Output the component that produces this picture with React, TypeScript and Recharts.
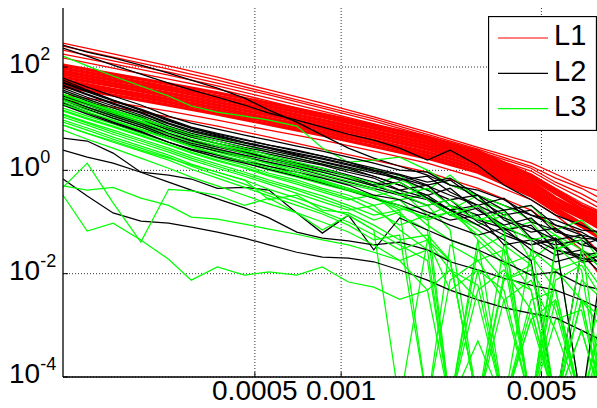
import { LineChart, Line, XAxis, YAxis, CartesianGrid, Legend } from "recharts";

// sample positions along the x axis (log spaced)
const xFine = [0.000107, 0.00013, 0.00016, 0.0002, 0.00025, 0.0003, 0.00037, 0.00046, 0.00056, 0.0007, 0.00086, 0.00106, 0.0013, 0.0016, 0.002, 0.0024, 0.003, 0.0037, 0.0046, 0.0056, 0.0069, 0.0082];
const xCoarse = [0.000107, 0.00016, 0.00025, 0.00037, 0.00056, 0.00086, 0.0013, 0.002, 0.003, 0.0046, 0.0056, 0.0069, 0.0082];

const xTicks = [0.0005, 0.001, 0.005];
const xTickLabels = ["0.0005", "0.001", "0.005"];
const yTicks = [0.0001, 0.01, 1, 100];

const seriesNames = ["L1", "L2", "L3"];
const seriesColors = ["#ff0000", "#000000", "#00ff00"];

// L1 (red) - smooth curves, upper group
const red01 = [291, 179, 105, 64, 36, 20, 10.8, 5.5, 2.8, 1.4, 0.85, 0.5, 0.38];
const red02 = [255, 156, 91, 56, 31.5, 17.6, 9.9, 5.0, 2.57, 1.2, 0.71, 0.45, 0.27];
const red03 = [213, 131, 79.5, 49, 29, 16, 9.0, 4.6, 2.36, 1.1, 0.59, 0.35, 0.21];
const red04 = [178, 115, 70, 43, 25, 14, 7.9, 4.0, 2.16, 0.97, 0.52, 0.29, 0.17];
const red05 = [150, 95, 58.5, 37.6, 22, 12.3, 6.9, 3.7, 1.88, 0.84, 0.45, 0.236, 0.15];
// L1 dense core band
const red06 = [109, 73, 47, 31.5, 20, 12.3, 7.5, 4.4, 2.36, 0.81, 0.415, 0.21, 0.136];
const red07 = [95, 64, 41, 27.5, 17.5, 10.8, 6.6, 3.85, 2.06, 0.71, 0.36, 0.18, 0.119];
const red08 = [83, 56, 36, 24, 15.3, 9.4, 5.7, 3.36, 1.8, 0.62, 0.29, 0.16, 0.104];
const red09 = [73, 49, 31.4, 21, 13.4, 8.2, 5.0, 2.94, 1.58, 0.54, 0.28, 0.14, 0.091];
const red10 = [64, 43, 27.4, 18.4, 11.7, 7.2, 4.4, 2.57, 1.38, 0.47, 0.24, 0.123, 0.079];
const red11 = [56, 37, 24, 16, 10.2, 6.3, 3.8, 2.24, 1.2, 0.41, 0.21, 0.12, 0.069];
const red12 = [49, 33, 21, 14, 8.9, 5.5, 3.35, 1.96, 1.05, 0.36, 0.185, 0.094, 0.05];
const red13 = [42.5, 28.5, 18.3, 12.3, 7.8, 4.8, 2.9, 1.72, 0.92, 0.32, 0.16, 0.082, 0.045];
// L1 lower strays
const red14 = [29, 21, 14, 9.4, 6.0, 3.85, 2.36, 1.38, 0.71, 0.27, 0.136, 0.056, 0.023];
const red15 = [23, 16.8, 10.8, 7.2, 4.4, 2.57, 1.58, 0.92, 0.45, 0.17, 0.076, 0.029, 0.0075];

const redUpper = [red01, red02, red03, red04, red05, red14, red15];
const redCore = [red06, red07, red08, red09, red10, red11, red12, red13];

// L2 (black)
const black01 = [267, 195, 150, 109, 76, 56, 39, 25, 14.7, 8.6, 4.8, 2.7, 1.72, 1.2, 0.81, 0.52, 0.33, 0.21, 0.136, 0.087, 0.056, 0.045];
const black02 = [233, 163, 109, 73, 49, 36, 26, 18.4, 12.8, 9.4, 6.9, 5.0, 3.85, 2.7, 1.58, 2.47, 1.26, 0.52, 0.27, 0.136, 0.087, 0.056];
const black03 = [61, 41, 27.5, 18.4, 11.2, 8.2, 6.3, 4.8, 3.85, 2.95, 2.36, 1.8, 1.38, 1.01, 0.92, 0.52, 0.415, 0.27, 0.136, 0.109, 0.07, 0.064];
const black04 = [49, 33, 22, 14.7, 9.0, 6.6, 5.0, 3.85, 3.08, 2.36, 1.88, 1.44, 1.01, 0.81, 0.52, 0.65, 0.27, 0.136, 0.17, 0.064, 0.049, 0.045];
const black05 = [39, 26, 17.6, 11.8, 7.2, 5.2, 4.0, 3.08, 2.47, 1.88, 1.5, 1.15, 0.88, 0.71, 0.415, 0.27, 0.33, 0.109, 0.064, 0.076, 0.036, 0.029];
const black06 = [33, 22, 14.7, 9.8, 6.0, 4.4, 3.35, 2.58, 2.06, 1.58, 1.26, 0.92, 0.71, 0.415, 0.52, 0.21, 0.136, 0.17, 0.049, 0.036, 0.045, 0.023];
const black07 = [27.5, 18.4, 12.3, 8.2, 5.0, 3.7, 2.8, 2.16, 1.72, 1.32, 1.01, 0.77, 0.52, 0.59, 0.29, 0.17, 0.21, 0.07, 0.087, 0.029, 0.023, 0.026];
const black08 = [23, 15.4, 10.3, 6.9, 4.2, 3.08, 2.36, 1.8, 1.44, 1.1, 0.81, 0.59, 0.45, 0.33, 0.21, 0.27, 0.1, 0.056, 0.036, 0.045, 0.017, 0.018];
const black09 = [20, 13.4, 8.6, 5.7, 3.5, 2.58, 1.97, 1.5, 1.2, 0.92, 0.71, 0.52, 0.33, 0.27, 0.157, 0.109, 0.136, 0.036, 0.045, 0.023, 0.029, 0.0147];
const black10 = [56, 36, 23, 14.7, 9.4, 6.6, 4.8, 3.5, 2.7, 1.97, 1.44, 1.1, 0.77, 0.52, 0.33, 0.17, 0.109, 0.076, 0.049, 0.029, 0.02, 0.017];
const black11 = [4.2, 3.7, 2.16, 0.92, 0.81, 0.68, 0.45, 0.47, 0.415, 0.15, 0.061, 0.136, 0.029, 0.12, 0.07, 0.045, 0.029, 0.017, 0.0094, 0.0108, 0.006, 0.0048];
const black12 = [2.47, 1.8, 1.38, 0.92, 0.59, 0.415, 0.28, 0.188, 0.12, 0.064, 0.049, 0.043, 0.036, 0.041, 0.029, 0.017, 0.0118, 0.0082, 0.006, 0.0048, 0.0031, 0.002];
const black13 = [0.68, 0.32, 0.15, 0.104, 0.095, 0.08, 0.064, 0.049, 0.036, 0.026, 0.021, 0.02, 0.017, 0.0118, 0.0075, 0.0048, 0.0031, 0.0022, 0.0017, 0.0014, 0.0008, 0.0005];
const black14 = [29, 19.2, 12.8, 8.6, 5.2, 3.85, 2.95, 2.25, 1.8, 1.38, 1.1, 0.81, 0.59, 0.415, 0.29, 0.17, 0.087, 0.045, 0.018, 0.00003, 0.029, 0.0118];
const black15 = [45, 30, 20, 13.4, 8.2, 6.0, 4.6, 3.5, 2.8, 2.16, 1.72, 1.32, 1.01, 0.71, 0.5, 0.33, 0.21, 0.12, 0.076, 0.045, 0.00003, 0.023];
const black16 = [43, 29, 19.2, 12.8, 7.9, 5.7, 4.4, 3.35, 2.7, 2.06, 1.65, 1.26, 0.96, 0.65, 0.77, 0.38, 0.21, 0.29, 0.1, 0.07, 0.036, 0.049];
const black17 = [36, 24, 16.1, 10.8, 6.6, 4.8, 3.7, 2.8, 2.25, 1.72, 1.32, 1.01, 0.77, 0.52, 0.33, 0.45, 0.17, 0.087, 0.12, 0.045, 0.056, 0.02];
const black18 = [25, 16.8, 11.2, 7.5, 4.6, 3.35, 2.58, 1.97, 1.58, 1.2, 0.92, 0.68, 0.5, 0.36, 0.27, 0.136, 0.188, 0.064, 0.036, 0.049, 0.018, 0.023];
const black19 = [18.4, 12.3, 8.2, 5.5, 3.5, 2.47, 1.8, 1.38, 1.05, 0.77, 0.57, 0.415, 0.29, 0.21, 0.136, 0.087, 0.056, 0.076, 0.029, 0.017, 0.023, 0.0094];
const black20 = [51, 34.5, 23, 15.4, 9.8, 6.9, 5.2, 4.0, 3.08, 2.47, 1.88, 1.44, 1.1, 0.84, 0.59, 0.71, 0.33, 0.17, 0.21, 0.087, 0.064, 0.036];

const blackLines = [black01, black02, black03, black04, black05, black06, black07, black08, black09, black10, black11, black12, black13, black14, black15, black16, black17, black18, black19, black20];

// L3 (green); 0.00003 = dropped below the axis
const green00 = [163, 105, 67, 43, 27.5, 17.6, 13.4, 11.2, 9.4, 7.2, 2.7, 1.44, 1.58, 1.8, 1.01, 0.52, 0.33, 0.21, 0.109, 0.056, 0.029, 0.018];
const green01 = [33, 23, 16.1, 11.2, 7.9, 5.7, 4.2, 3.08, 2.25, 1.72, 1.32, 1.01, 1.1, 0.65, 0.415, 0.81, 0.27, 0.17, 0.21, 0.07, 0.109, 0.045];
const green02 = [27.5, 19.2, 13.4, 9.0, 6.3, 4.4, 3.2, 2.36, 1.72, 1.26, 0.92, 0.71, 0.52, 0.81, 0.27, 0.17, 0.33, 0.07, 0.1, 0.029, 0.056, 0.0147];
const green03 = [24, 16.8, 11.8, 7.9, 5.2, 3.7, 2.58, 1.88, 1.38, 1.01, 0.74, 0.54, 0.415, 0.27, 0.33, 0.136, 0.087, 0.136, 0.018, 0.045, 0.00003, 0.0118];
const green04 = [21, 14.7, 10.3, 6.9, 4.6, 3.2, 2.25, 1.65, 1.2, 0.84, 0.62, 0.45, 0.32, 0.415, 0.136, 0.21, 0.045, 0.00003, 0.029, 0.0118, 0.018, 0.0048];
const green05 = [18.4, 12.8, 9.0, 6.0, 4.0, 2.8, 1.97, 1.44, 1.01, 0.74, 0.54, 0.4, 0.29, 0.17, 0.21, 0.07, 0.00003, 0.036, 0.0147, 0.00003, 0.0075, 0.0031];
const green06 = [16.1, 11.2, 7.9, 5.2, 3.5, 2.47, 1.72, 1.26, 0.88, 0.65, 0.45, 0.33, 0.21, 0.27, 0.087, 0.045, 0.029, 0.056, 0.00003, 0.0118, 0.0031, 0.00003];
const green07 = [14, 9.8, 6.9, 4.6, 3.08, 2.16, 1.5, 1.1, 0.77, 0.54, 0.38, 0.27, 0.33, 0.136, 0.07, 0.00003, 0.045, 0.0147, 0.023, 0.0048, 0.00003, 0.002];
const green08 = [12.3, 8.6, 6.0, 4.0, 2.7, 1.88, 1.32, 0.92, 0.65, 0.45, 0.32, 0.21, 0.136, 0.17, 0.00003, 0.036, 0.018, 0.029, 0.0048, 0.00003, 0.0031, 0.0008];
const green09 = [10.8, 7.5, 5.0, 3.35, 2.25, 1.58, 1.1, 0.77, 0.54, 0.36, 0.245, 0.17, 0.21, 0.07, 0.029, 0.018, 0.00003, 0.0075, 0.0118, 0.002, 0.00003, 0.00033];
const green10 = [9.4, 6.6, 4.4, 2.95, 1.97, 1.32, 0.92, 0.65, 0.43, 0.29, 0.196, 0.136, 0.07, 0.00003, 0.045, 0.0118, 0.006, 0.00003, 0.0031, 0.0048, 0.00003, 0.00003];
const green11 = [7.5, 5.2, 3.5, 2.36, 1.58, 1.05, 0.71, 0.47, 0.32, 0.21, 0.143, 0.087, 0.045, 0.056, 0.00003, 0.0075, 0.018, 0.0031, 0.00003, 0.0013, 0.002, 0.00003];
const green12 = [6.0, 4.0, 2.7, 1.72, 1.1, 0.74, 0.5, 0.33, 0.225, 0.15, 0.1, 0.064, 0.036, 0.018, 0.029, 0.00003, 0.0048, 0.0118, 0.002, 0.00003, 0.0008, 0.00003];
const green13 = [29, 20, 14, 9.8, 6.6, 4.6, 3.35, 2.47, 1.8, 1.32, 0.96, 0.68, 0.5, 0.35, 0.21, 0.27, 0.12, 0.084, 0.045, 0.056, 0.017, 0.029];
const green14 = [23, 16.1, 11.2, 7.5, 5.0, 3.5, 2.47, 1.8, 1.32, 0.92, 0.65, 0.45, 0.3, 0.188, 0.12, 0.157, 0.07, 0.029, 0.00003, 0.036, 0.0118, 0.00003];
const green15 = [0.47, 1.38, 0.235, 0.041, 0.43, 0.4, 0.33, 0.21, 0.29, 0.15, 0.07, 0.136, 0.07, 0.036, 0.018, 0.00003, 0.0118, 0.0048, 0.00003, 0.0031, 0.00003, 0.0013];
const green16 = [0.5, 0.415, 0.47, 0.29, 0.21, 0.125, 0.114, 0.091, 0.073, 0.058, 0.045, 0.036, 0.026, 0.018, 0.0048, 0.0118, 0.0031, 0.00003, 0.002, 0.00003, 0.0008, 0.00003];
const green17 = [0.33, 0.067, 0.095, 0.045, 0.019, 0.0075, 0.0135, 0.0094, 0.0108, 0.0094, 0.0135, 0.0069, 0.0055, 0.0032, 0.0048, 0.00003, 0.0005, 0.00003, 0.0013, 0.00003, 0.00003, 0.00003];
const green18 = [7.5, 5.2, 3.7, 2.47, 1.72, 1.26, 0.92, 0.65, 0.27, 0.33, 0.17, 0.15, 0.087, 0.045, 0.056, 0.018, 0.00003, 0.0094, 0.0048, 0.00003, 0.0031, 0.00003];
const green19 = [30, 21, 14.7, 10.3, 6.9, 5.0, 3.7, 2.7, 1.97, 1.44, 1.1, 0.77, 0.57, 0.33, 0.45, 0.21, 0.109, 0.157, 0.045, 0.00003, 0.029, 0.0118];
const green20 = [19.2, 13.4, 9.4, 6.3, 4.2, 2.95, 2.06, 1.5, 1.1, 0.81, 0.59, 0.415, 0.3, 0.21, 0.109, 0.157, 0.056, 0.018, 0.00003, 0.0075, 0.0147, 0.0031];
const green21 = [14.7, 10.3, 7.2, 4.8, 3.2, 2.25, 1.58, 1.15, 0.81, 0.59, 0.415, 0.29, 0.17, 0.087, 0.136, 0.00003, 0.029, 0.0075, 0.0147, 0.00003, 0.0031, 0.0013];
const green22 = [11.8, 8.2, 5.5, 3.7, 2.47, 1.72, 1.2, 0.84, 0.59, 0.415, 0.28, 0.188, 0.109, 0.157, 0.045, 0.018, 0.00003, 0.0031, 0.0075, 0.0008, 0.00003, 0.00003];
const green23 = [8.6, 6.0, 4.0, 2.7, 1.8, 1.2, 0.81, 0.54, 0.36, 0.245, 0.157, 0.1, 0.056, 0.029, 0.045, 0.0048, 0.0118, 0.00003, 0.0013, 0.0031, 0.00003, 0.0005];
const green24 = [26, 18.4, 12.8, 8.6, 5.7, 4.0, 2.95, 2.16, 1.58, 1.15, 0.84, 0.62, 0.45, 0.59, 0.27, 0.136, 0.21, 0.07, 0.00003, 0.029, 0.045, 0.00003];

const greenLines = [green00, green01, green02, green03, green04, green05, green06, green07, green08, green09, green10, green11, green12, green13, green14, green15, green16, green17, green18, green19, green20, green21, green22, green23, green24];

const FONT = "'Liberation Sans', Arial, Helvetica, sans-serif";

const toPoints = (xs: number[], ys: number[]) => xs.map((x, i) => ({ x, y: ys[i] }));

// black and green traces were plotted one after the other, so they are interleaved
const mixedLines: { ys: number[]; color: string }[] = [];
for (let i = 0; i < Math.max(blackLines.length, greenLines.length); i++) {
  if (blackLines[i]) mixedLines.push({ ys: blackLines[i], color: "#000000" });
  if (greenLines[i]) mixedLines.push({ ys: greenLines[i], color: "#00ff00" });
}

function XTick(props: any) {
  const { x, y, payload } = props;
  const i = xTicks.indexOf(payload.value);
  return (
    <g>
      <line x1={x} y1={y} x2={x} y2={y - 5} stroke="#000" />
      <text x={x} y={y + 23} textAnchor="middle" fontSize={28} fontFamily={FONT} fill="#000">
        {i >= 0 ? xTickLabels[i] : String(payload.value)}
      </text>
    </g>
  );
}

function TopTick(props: any) {
  const { x, y } = props;
  return <line x1={x} y1={y} x2={x} y2={y + 5} stroke="#000" />;
}

function YTick(props: any) {
  const { x, y, payload } = props;
  const exp = Math.round(Math.log10(payload.value));
  return (
    <g>
      <line x1={x} y1={y} x2={x + 5} y2={y} stroke="#000" />
      <text x={x - 54} y={y + 6} fontSize={28} fontFamily={FONT} fill="#000">
        10<tspan dy={-13} fontSize={18}>{exp}</tspan>
      </text>
    </g>
  );
}

const LegendBox = () => (
  <svg width={109} height={115} style={{ display: "block" }}>
    <rect x={0.5} y={0.5} width={108} height={114} fill="#fff" stroke="#000" strokeWidth={1.3} />
    {seriesNames.map((name, i) => (
      <g key={name}>
        <line x1={10} x2={60} y1={22 + i * 35.3} y2={22 + i * 35.3} stroke={seriesColors[i]} strokeWidth={1.2} />
        <text x={66} y={29 + i * 35.5} fontSize={29} fontFamily={FONT} fill="#000">
          {name}
        </text>
      </g>
    ))}
  </svg>
);

export default function App() {
  return (
    <div style={{ position: "absolute", left: 0, top: 0, width: 597, height: 408, overflow: "hidden", background: "#fff" }}>
      <LineChart width={605} height={408} margin={{ top: 8, right: 2, bottom: 0, left: 0 }}>
        <CartesianGrid stroke="#333" strokeDasharray="1 2" horizontalValues={yTicks} verticalValues={xTicks} />
        <XAxis
          dataKey="x"
          type="number"
          scale="log"
          domain={[0.000107, 0.0082]}
          allowDataOverflow
          ticks={xTicks}
          interval={0}
          height={31}
          tickSize={0}
          tickMargin={0}
          tickLine={false}
          axisLine={{ stroke: "#000", strokeWidth: 1.3 }}
          tick={(p: any) => <XTick {...p} />}
        />
        <XAxis
          xAxisId="top"
          orientation="top"
          dataKey="x"
          type="number"
          scale="log"
          domain={[0.000107, 0.0082]}
          allowDataOverflow
          ticks={xTicks}
          interval={0}
          height={0}
          tickSize={0}
          tickMargin={0}
          tickLine={false}
          axisLine={{ stroke: "#000", strokeWidth: 1.3 }}
          tick={(p: any) => <TopTick {...p} />}
        />
        <YAxis
          type="number"
          scale="log"
          domain={[0.0001, 1390]}
          allowDataOverflow
          ticks={yTicks}
          interval={0}
          width={63}
          tickSize={0}
          tickMargin={0}
          tickLine={false}
          axisLine={{ stroke: "#000", strokeWidth: 1.3 }}
          tick={(p: any) => <YTick {...p} />}
        />
        <Legend
          layout="vertical"
          align="center"
          verticalAlign="middle"
          content={() => <LegendBox />}
          wrapperStyle={{ position: "absolute", left: 488, top: 16, width: 109, height: 115 }}
        />
        {redCore.map((ys, i) => (
          <Line key={`rc${i}`} data={toPoints(xCoarse, ys)} dataKey="y" stroke="#ff0000" strokeWidth={3.3} dot={false} activeDot={false} isAnimationActive={false} />
        ))}
        {redUpper.map((ys, i) => (
          <Line key={`ru${i}`} data={toPoints(xCoarse, ys)} dataKey="y" stroke="#ff0000" strokeWidth={1.3} dot={false} activeDot={false} isAnimationActive={false} />
        ))}
        {mixedLines.map((l, i) => (
          <Line key={`m${i}`} data={toPoints(xFine, l.ys)} dataKey="y" stroke={l.color} strokeWidth={1.25} dot={false} activeDot={false} isAnimationActive={false} />
        ))}
      </LineChart>
    </div>
  );
}
